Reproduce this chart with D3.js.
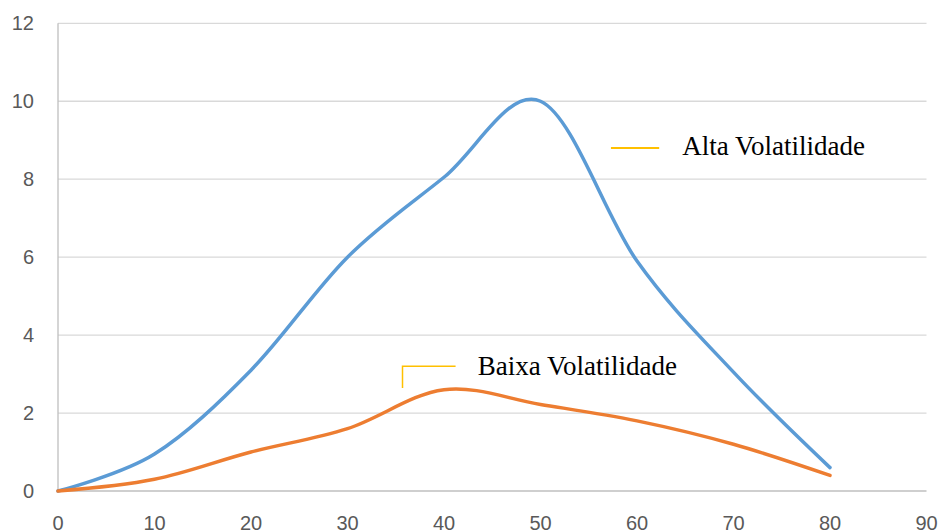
<!DOCTYPE html>
<html>
<head>
<meta charset="utf-8">
<script src="https://cdn.jsdelivr.net/npm/d3@7"></script>
<style>
  html, body { margin: 0; padding: 0; background: #fff; }
  svg { display: block; }
</style>
</head>
<body>
<svg id="chart" width="939" height="531"></svg>
<script>
// Horizontal positions of the observations
const xValues = [0, 10, 20, 30, 40, 50, 60, 70, 80];
// High-volatility series
const altaValues = [0, 0.95, 3.1, 6.0, 8.05, 10.0, 5.9, 3.05, 0.6];
// Low-volatility series
const baixaValues = [0, 0.3, 1.0, 1.6, 2.6, 2.22, 1.8, 1.2, 0.4];
// Axis ticks
const xTicks = [0, 10, 20, 30, 40, 50, 60, 70, 80, 90];
const yTicks = [0, 2, 4, 6, 8, 10, 12];

const svg = d3.select("#chart");

const x = d3.scaleLinear().domain([0, 90]).range([58, 926.5]);
const y = d3.scaleLinear().domain([0, 12]).range([491, 23.3]);

// Horizontal gridlines
svg.append("g")
  .selectAll("line")
  .data(yTicks.filter(d => d > 0))
  .join("line")
  .attr("x1", x(0)).attr("x2", x(90))
  .attr("y1", d => y(d)).attr("y2", d => y(d))
  .attr("stroke", "#d9d9d9").attr("stroke-width", 1.3);

// Axis lines
svg.append("line")
  .attr("x1", x(0)).attr("x2", x(90))
  .attr("y1", y(0)).attr("y2", y(0))
  .attr("stroke", "#bfbfbf").attr("stroke-width", 1.3);
svg.append("line")
  .attr("x1", x(0)).attr("x2", x(0))
  .attr("y1", y(0)).attr("y2", y(12))
  .attr("stroke", "#bfbfbf").attr("stroke-width", 1.3);

const tickFont = "'Liberation Sans', Arial, sans-serif";

// Y tick labels
svg.append("g")
  .selectAll("text")
  .data(yTicks)
  .join("text")
  .attr("x", 34)
  .attr("y", d => y(d))
  .attr("dy", "0.35em")
  .attr("text-anchor", "end")
  .attr("font-family", tickFont)
  .attr("font-size", 20)
  .attr("fill", "#595959")
  .text(d => d);

// X tick labels
svg.append("g")
  .selectAll("text")
  .data(xTicks)
  .join("text")
  .attr("x", d => x(d))
  .attr("y", 530)
  .attr("text-anchor", "middle")
  .attr("font-family", tickFont)
  .attr("font-size", 20)
  .attr("fill", "#595959")
  .text(d => d);

const line = d3.line()
  .x(d => x(d[0]))
  .y(d => y(d[1]))
  .curve(d3.curveCardinal.tension(0));

svg.append("path")
  .datum(xValues.map((v, i) => [v, altaValues[i]]))
  .attr("d", line)
  .attr("fill", "none")
  .attr("stroke", "#5b9bd5")
  .attr("stroke-width", 3.5)
  .attr("stroke-linecap", "round");

svg.append("path")
  .datum(xValues.map((v, i) => [v, baixaValues[i]]))
  .attr("d", line)
  .attr("fill", "none")
  .attr("stroke", "#ed7d31")
  .attr("stroke-width", 3.5)
  .attr("stroke-linecap", "round");

// Series callouts
const labelFont = "'Liberation Serif', 'Times New Roman', serif";

svg.append("line")
  .attr("x1", x(57.3)).attr("x2", x(62.3))
  .attr("y1", y(8.8)).attr("y2", y(8.8))
  .attr("stroke", "#ffc000").attr("stroke-width", 2);
svg.append("text")
  .attr("x", x(64.7)).attr("y", y(8.61))
  .attr("font-family", labelFont)
  .attr("font-size", 27)
  .attr("fill", "#000")
  .text("Alta Volatilidade");

svg.append("path")
  .attr("d", `M${x(35.7)},${y(2.64)}V${y(3.2)}H${x(41.2)}`)
  .attr("fill", "none")
  .attr("stroke", "#ffc000").attr("stroke-width", 1.5);
svg.append("text")
  .attr("x", x(43.5)).attr("y", y(2.97))
  .attr("font-family", labelFont)
  .attr("font-size", 27)
  .attr("fill", "#000")
  .text("Baixa Volatilidade");
</script>
</body>
</html>
